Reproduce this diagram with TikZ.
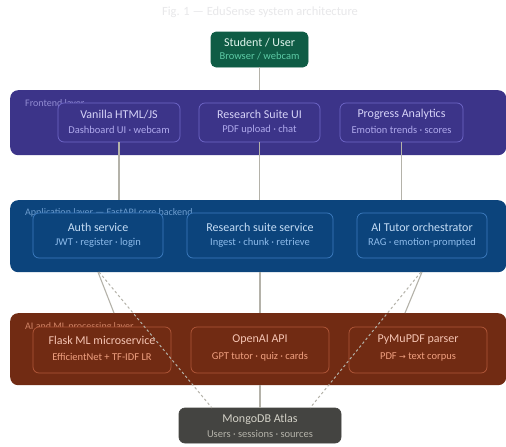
\documentclass[tikz,border=0pt]{standalone}
\usepackage{fontspec}
\setmainfont{Carlito}
\newfontfamily\symfont{DejaVu Sans}
\definecolor{figtitle}{HTML}{E8E8EA}
\definecolor{stufill}{HTML}{0F5C45}
\definecolor{stutitle}{HTML}{E1F5EE}
\definecolor{stusub}{HTML}{5DCAA5}
\definecolor{fefill}{HTML}{3C3489}
\definecolor{feline}{HTML}{6F67C9}
\definecolor{fetitle}{HTML}{D6D3F8}
\definecolor{fesub}{HTML}{AFA9EC}
\definecolor{appfill}{HTML}{0C447C}
\definecolor{appline}{HTML}{3D7CC0}
\definecolor{apptitle}{HTML}{C5DDF6}
\definecolor{appsub}{HTML}{8DBBEB}
\definecolor{aifill}{HTML}{712B13}
\definecolor{ailine}{HTML}{B2583A}
\definecolor{aititle}{HTML}{F5C4B3}
\definecolor{aisub}{HTML}{F0A080}
\definecolor{dbfill}{HTML}{444441}
\definecolor{dbtitle}{HTML}{D3D1C7}
\definecolor{dbsub}{HTML}{B4B2A9}
\definecolor{wire}{HTML}{B4B2A9}
\begin{document}
\begin{tikzpicture}[x=1pt,y=-1pt,
  layerbox/.style={rounded corners=8pt, anchor=north west, inner sep=0pt, draw=none},
  card/.style={rounded corners=6pt, inner sep=0pt, line width=0.7pt},
  ttl/.style={inner sep=0pt, font=\fontsize{12}{14}\selectfont},
  sub/.style={inner sep=0pt, font=\fontsize{10.5}{12}\selectfont},
  lyr/.style={inner sep=0pt, anchor=west, font=\fontsize{10}{12}\selectfont},
  wireline/.style={draw=wire, line width=1.1pt},
  dashwire/.style={draw=wire, line width=1pt, dash pattern=on 2.5pt off 2.5pt}]
\useasboundingbox (0,0) rectangle (506,447);
\fill[white] (0,0) rectangle (506,447);

% title
\node[inner sep=0pt, text=figtitle, font=\fontsize{12.5}{14}\selectfont] (figt) at (260,12) {Fig. 1 — EduSense system architecture};

% layers
\node[layerbox, fill=fefill, minimum width=496pt, minimum height=65pt] (fe) at (10,90) {};
\node[layerbox, fill=appfill, minimum width=496pt, minimum height=72pt] (app) at (10,200) {};
\node[layerbox, fill=aifill, minimum width=496pt, minimum height=72pt] (ai) at (10,313) {};

\node[lyr, text=fesub!75!fefill] (fel) at (25,104) {Frontend layer};
\node[lyr, text=appsub!75!appfill] (appl) at (25,213) {Application layer — FastAPI core backend};
\node[lyr, text=aisub!75!aifill] (ail) at (25,327) {AI and ML processing layer};

% student
\node[card, rounded corners=5pt, fill=stufill, draw=stufill, minimum width=97pt, minimum height=35pt] (stu) at (259.5,49.5) {};
\node[ttl, text=stutitle] (stut) at ([yshift=6.5pt]stu.center) {Student / User};
\node[sub, text=stusub] (stus) at ([yshift=-6.5pt]stu.center) {Browser / webcam};

% mongo
\node[card, fill=dbfill, draw=dbfill, minimum width=162pt, minimum height=35pt] (db) at (260,425.5) {};
\node[ttl, text=dbtitle] (dbt) at ([yshift=6.5pt]db.center) {MongoDB Atlas};
\node[sub, text=dbsub] (dbs) at ([yshift=-8pt]db.center) {Users · sessions · sources};

% frontend cards
\node[card, fill=fefill, draw=feline, minimum width=122pt, minimum height=39pt] (van) at (119,122.5) {};
\node[card, fill=fefill, draw=feline, minimum width=121pt, minimum height=39pt] (rsui) at (259.5,122.5) {};
\node[card, fill=fefill, draw=feline, minimum width=123pt, minimum height=39pt] (prog) at (401.5,122.5) {};
\node[ttl, text=fetitle] at ([yshift=8pt]van.center) {Vanilla HTML/JS};
\node[sub, text=fesub] at ([yshift=-7pt]van.center) {Dashboard UI · webcam};
\node[ttl, text=fetitle] at ([yshift=8pt]rsui.center) {Research Suite UI};
\node[sub, text=fesub] at ([yshift=-7pt]rsui.center) {PDF upload · chat};
\node[ttl, text=fetitle] at ([yshift=8pt]prog.center) {Progress Analytics};
\node[sub, text=fesub] at ([yshift=-7pt]prog.center) {Emotion trends · scores};

% application cards
\node[card, fill=appfill, draw=appline, minimum width=130pt, minimum height=45pt] (auth) at (98,235.5) {};
\node[card, fill=appfill, draw=appline, minimum width=146pt, minimum height=45pt] (rss) at (260,235.5) {};
\node[card, fill=appfill, draw=appline, minimum width=130pt, minimum height=45pt] (tutor) at (422,235.5) {};
\node[ttl, text=apptitle] at ([yshift=8.5pt]auth.center) {Auth service};
\node[sub, text=appsub] at ([yshift=-7.5pt]auth.center) {JWT · register · login};
\node[ttl, text=apptitle] at ([yshift=8.5pt]rss.center) {Research suite service};
\node[sub, text=appsub] at ([yshift=-7.5pt]rss.center) {Ingest · chunk · retrieve};
\node[ttl, text=apptitle] at ([yshift=8.5pt]tutor.center) {AI Tutor orchestrator};
\node[sub, text=appsub] at ([yshift=-7.5pt]tutor.center) {RAG · emotion-prompted};

% AI cards
\node[card, fill=aifill, draw=ailine, minimum width=138pt, minimum height=46pt] (flask) at (102,350) {};
\node[card, fill=aifill, draw=ailine, minimum width=138pt, minimum height=46pt] (oai) at (260,350) {};
\node[card, fill=aifill, draw=ailine, minimum width=138pt, minimum height=46pt] (pdf) at (418,350) {};
\node[ttl, text=aititle] at ([yshift=10pt]flask.center) {Flask ML microservice};
\node[sub, text=aisub] at ([yshift=-7pt]flask.center) {EfficientNet + TF-IDF LR};
\node[ttl, text=aititle] at ([yshift=10pt]oai.center) {OpenAI API};
\node[sub, text=aisub] at ([yshift=-7pt]oai.center) {GPT tutor · quiz · cards};
\node[ttl, text=aititle] at ([yshift=10pt]pdf.center) {PyMuPDF parser};
\node[sub, text=aisub] at ([yshift=-7pt]pdf.center) {PDF {\symfont\fontsize{8}{10}\selectfont →} text corpus};

% connectors
\coordinate (authout) at (98,272);
\coordinate (flaskin) at (114,313);
\coordinate (tutorout) at (422,272);
\coordinate (pdfin) at (405,313);
\coordinate (authdb) at (99,272);
\coordinate (tutordb) at (421,272);
\coordinate (dbl) at (212,408);
\coordinate (dbr) at (310,408);

\draw[wireline] (stu.south) -- (stu.south |- fe.north);
\draw[wireline] (van.south) -- (van.south |- app.north);
\draw[wireline] (rsui.south) -- (rsui.south |- app.north);
\draw[wireline] (prog.south) -- (prog.south |- app.north);
\draw[wireline] (authout) -- (flaskin);
\draw[wireline] (rss.south |- app.south) -- (rss.south |- ai.north);
\draw[wireline] (tutorout) -- (pdfin);
\draw[wireline] (oai.south |- ai.south) -- (db.north);
\draw[dashwire] (authdb) -- (dbl);
\draw[dashwire] (tutordb) -- (dbr);
\end{tikzpicture}
\end{document}
